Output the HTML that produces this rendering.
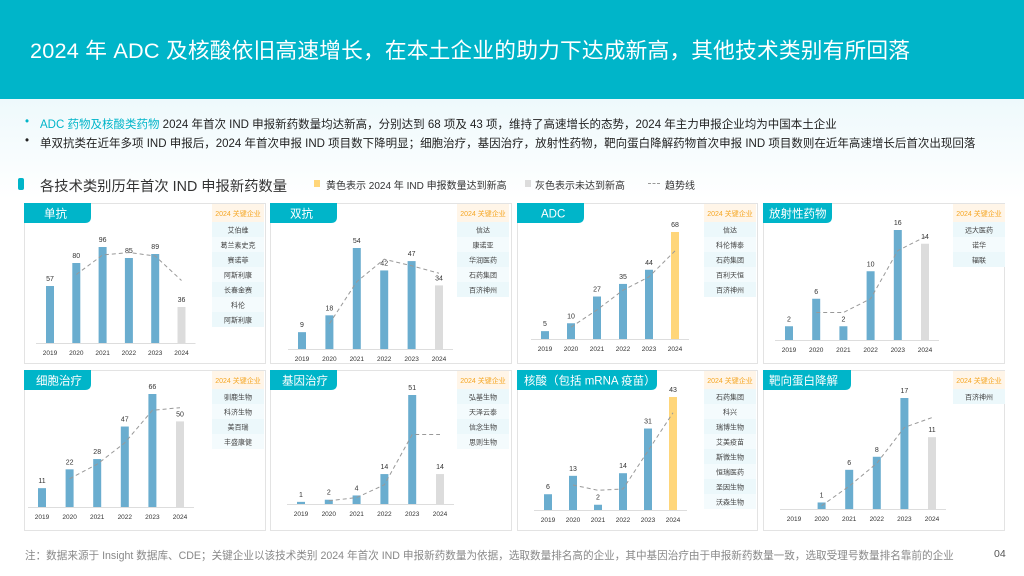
<!DOCTYPE html>
<html><head><meta charset="utf-8">
<style>
*{margin:0;padding:0;box-sizing:border-box}
body{width:1024px;height:576px;overflow:hidden;background:#fff;font-family:"Liberation Sans","Noto Sans CJK SC",sans-serif;position:relative}
.abs{position:absolute}
#header{left:0;top:0;width:1024px;height:99px;background:#00b5c9}
#title{left:30px;top:34px;color:#fff;font-size:21.7px;white-space:nowrap;letter-spacing:0.2px}
#band{left:0;top:99px;width:1024px;height:100px;background:linear-gradient(#eef9fc,#fff)}
.bullet{left:25px;font-size:11.5px;color:#222;white-space:nowrap}
.bullet b{font-weight:normal;position:absolute;left:0}
.bullet span.t{position:absolute;left:15px}
.legend{font-size:10px;color:#333;white-space:nowrap}
#footer{left:25px;top:548px;font-size:10.6px;color:#888;white-space:nowrap}
#pagenum{left:994px;top:548px;font-size:10.5px;color:#555}
</style></head><body>
<div class="abs" id="header"></div>
<div class="abs" id="title">2024 年 ADC 及核酸依旧高速增长，在本土企业的助力下达成新高，其他技术类别有所回落</div>
<div class="abs" id="band"></div>
<div class="abs bullet" style="top:116px;width:1000px;height:15px"><b style="color:#00b5c9">•</b><span class="t"><span style="color:#00b5c9">ADC 药物及核酸类药物</span> 2024 年首次 IND 申报新药数量均达新高，分别达到 68 项及 43 项，维持了高速增长的态势，2024 年主力申报企业均为中国本土企业</span></div>
<div class="abs bullet" style="top:135px;width:1000px;height:15px"><b>•</b><span class="t">单双抗类在近年多项 IND 申报后，2024 年首次申报 IND 项目数下降明显；细胞治疗，基因治疗，放射性药物，靶向蛋白降解药物首次申报 IND 项目数则在近年高速增长后首次出现回落</span></div>
<div class="abs" style="left:18px;top:178px;width:6px;height:12px;background:#00b5c9;border-radius:2px"></div>
<div class="abs" style="left:40px;top:175px;font-size:14.3px;color:#333;white-space:nowrap">各技术类别历年首次 IND 申报新药数量</div>
<div class="abs" style="left:314px;top:180px;width:6px;height:7px;background:#ffd67a"></div>
<div class="abs legend" style="left:326px;top:177px">黄色表示 2024 年 IND 申报数量达到新高</div>
<div class="abs" style="left:525px;top:180px;width:6px;height:7px;background:#dcdcdc"></div>
<div class="abs legend" style="left:535px;top:177px">灰色表示未达到新高</div>
<div class="abs" style="left:648px;top:183px;width:12px;border-top:1px dashed #999"></div>
<div class="abs legend" style="left:665px;top:177px">趋势线</div>

<svg class="abs" id="charts" style="left:0;top:0" width="1024" height="576"></svg>

<div class="abs" id="footer">注：数据来源于 Insight 数据库、CDE；关键企业以该技术类别 2024 年首次 IND 申报新药数量为依据，选取数量排名高的企业，其中基因治疗由于申报新药数量一致，选取受理号数量排名靠前的企业</div>
<div class="abs" id="pagenum">04</div>

<script>
const years=["2019","2020","2021","2022","2023","2024"];
const categories=["单抗","双抗","ADC","放射性药物","细胞治疗","基因治疗","核酸（包括 mRNA 疫苗）","靶向蛋白降解"];
const mabValues=[57,80,96,85,89,36];
const bsabValues=[9,18,54,42,47,34];
const adcValues=[5,10,27,35,44,68];
const radioValues=[2,6,2,10,16,14];
const cellValues=[11,22,28,47,66,50];
const geneValues=[1,2,4,14,51,14];
const nucleicValues=[6,13,2,14,31,43];
const tpdValues=[0,1,6,8,17,11];
const seriesValues=[mabValues,bsabValues,adcValues,radioValues,cellValues,geneValues,nucleicValues,tpdValues];
const companies=[
 ["艾伯维","葛兰素史克","赛诺菲","阿斯利康","长春金赛","科伦","阿斯利康"],
 ["信达","康诺亚","华润医药","石药集团","百济神州"],
 ["信达","科伦博泰","石药集团","百利天恒","百济神州"],
 ["远大医药","诺华","辐联"],
 ["驯鹿生物","科济生物","美百瑞","丰盛康健"],
 ["弘基生物","天泽云泰","信念生物","思则生物"],
 ["石药集团","科兴","瑞博生物","艾美疫苗","斯微生物","恒瑞医药","圣因生物","沃森生物"],
 ["百济神州"]
];
// layout (style, not data)
const layout=[
 {px:24,py:203,w:241,tab:67,tpad:20,x0:50,step:26.3,base:343,h:96,tx:212},
 {px:270,py:203,w:241,tab:67,tpad:20,x0:302,step:27.4,base:349,h:101,tx:457},
 {px:517,py:203,w:240,tab:67,tpad:24,x0:545,step:26,base:339,h:107,tx:704},
 {px:763,py:203,w:241,tab:69,tpad:6,x0:789,step:27.2,base:340,h:110,tx:953},
 {px:24,py:370,w:241,tab:67,tpad:12,x0:42,step:27.6,base:507,h:113,tx:212},
 {px:270,py:370,w:241,tab:67,tpad:12,x0:301,step:27.8,base:504,h:109,tx:457},
 {px:517,py:370,w:240,tab:140,tpad:7,x0:548,step:25,base:510,h:113,tx:704},
 {px:763,py:370,w:241,tab:88,tpad:6,x0:794,step:27.6,base:509,h:111,tx:953}
];
const NS="http://www.w3.org/2000/svg";
const svg=document.getElementById('charts');
function mk(tag,attrs,parent){const e=document.createElementNS(NS,tag);for(const k in attrs)e.setAttribute(k,attrs[k]);(parent||svg).appendChild(e);return e;}
seriesValues.forEach((vals,i)=>{
 const L=layout[i];
 const g=mk('g',{});
 
 
 const box=mk('rect',{x:L.px+0.5,y:L.py+0.5,width:L.w,height:160,fill:'#fff',stroke:'#e3e3e3'},g);
 
 
 const tab=mk('path',{d:`M${L.px} ${L.py}H${L.px+L.tab}V${L.py+14}Q${L.px+L.tab} ${L.py+20} ${L.px+L.tab-6} ${L.py+20}H${L.px}Z`,fill:'#00b5c9'},g);
 
 
 const tt=mk('text',{x:L.px+L.tpad,y:L.py+14.5,fill:'#fff','font-size':11.5},g);
 tt.textContent=categories[i];
 
 
 const max=Math.max(...vals);
 const sc=L.h/max;
 const xf=k=>L.x0+k*L.step;
 const yf=v=>L.base-v*sc;
 const axis=mk('line',{x1:xf(0)-14,x2:xf(5)+14,y1:L.base+0.5,y2:L.base+0.5,stroke:'#ddd'},g);
 
 
 const prevMax=Math.max(...vals.slice(0,5));
 vals.forEach((v,k)=>{
  let col='#6aadcf';
  if(k==5)col=v>prevMax?'#ffd67a':'#dcdcdc';
  const r=mk('rect',{x:xf(k)-4,y:yf(v),width:8,height:v*sc,fill:col},g);
  
  
  const yl=mk('text',{x:xf(k),y:L.base+12,'text-anchor':'middle','font-size':6.5,fill:'#333'},g);
  yl.textContent=years[k];
  
  
  if(v>0){
   const vl=mk('text',{x:xf(k),y:yf(v)-5,'text-anchor':'middle','font-size':7,fill:'#333'},g);
   vl.textContent=v;
   
   
  }
 });
 let pts=[];
 for(let k=1;k<6;k++){pts.push(xf(k)+','+yf((vals[k]+vals[k-1])/2));}
 const tl=mk('polyline',{points:pts.join(' '),fill:'none',stroke:'#999','stroke-width':1,'stroke-dasharray':'4 3'},g);
 
 
 const hd=mk('rect',{x:L.tx,y:L.py+1,width:52,height:18,fill:'#fff5e8'},g);
 
 
 const ht=mk('text',{x:L.tx+26,y:L.py+13,'text-anchor':'middle','font-size':7,fill:'#f5a623'},g);
 ht.textContent='2024 关键企业';
 
 
 companies[i].forEach((c,j)=>{
  const rr=mk('rect',{x:L.tx,y:L.py+19+j*15,width:52,height:15,fill:j%2?'#f4fbfd':'#ecf8fb'},g);
  
  
  const ct=mk('text',{x:L.tx+26,y:L.py+29.5+j*15,'text-anchor':'middle','font-size':7,fill:'#444'},g);
  ct.textContent=c;
  
  
 });
});
</script>
</body></html>
